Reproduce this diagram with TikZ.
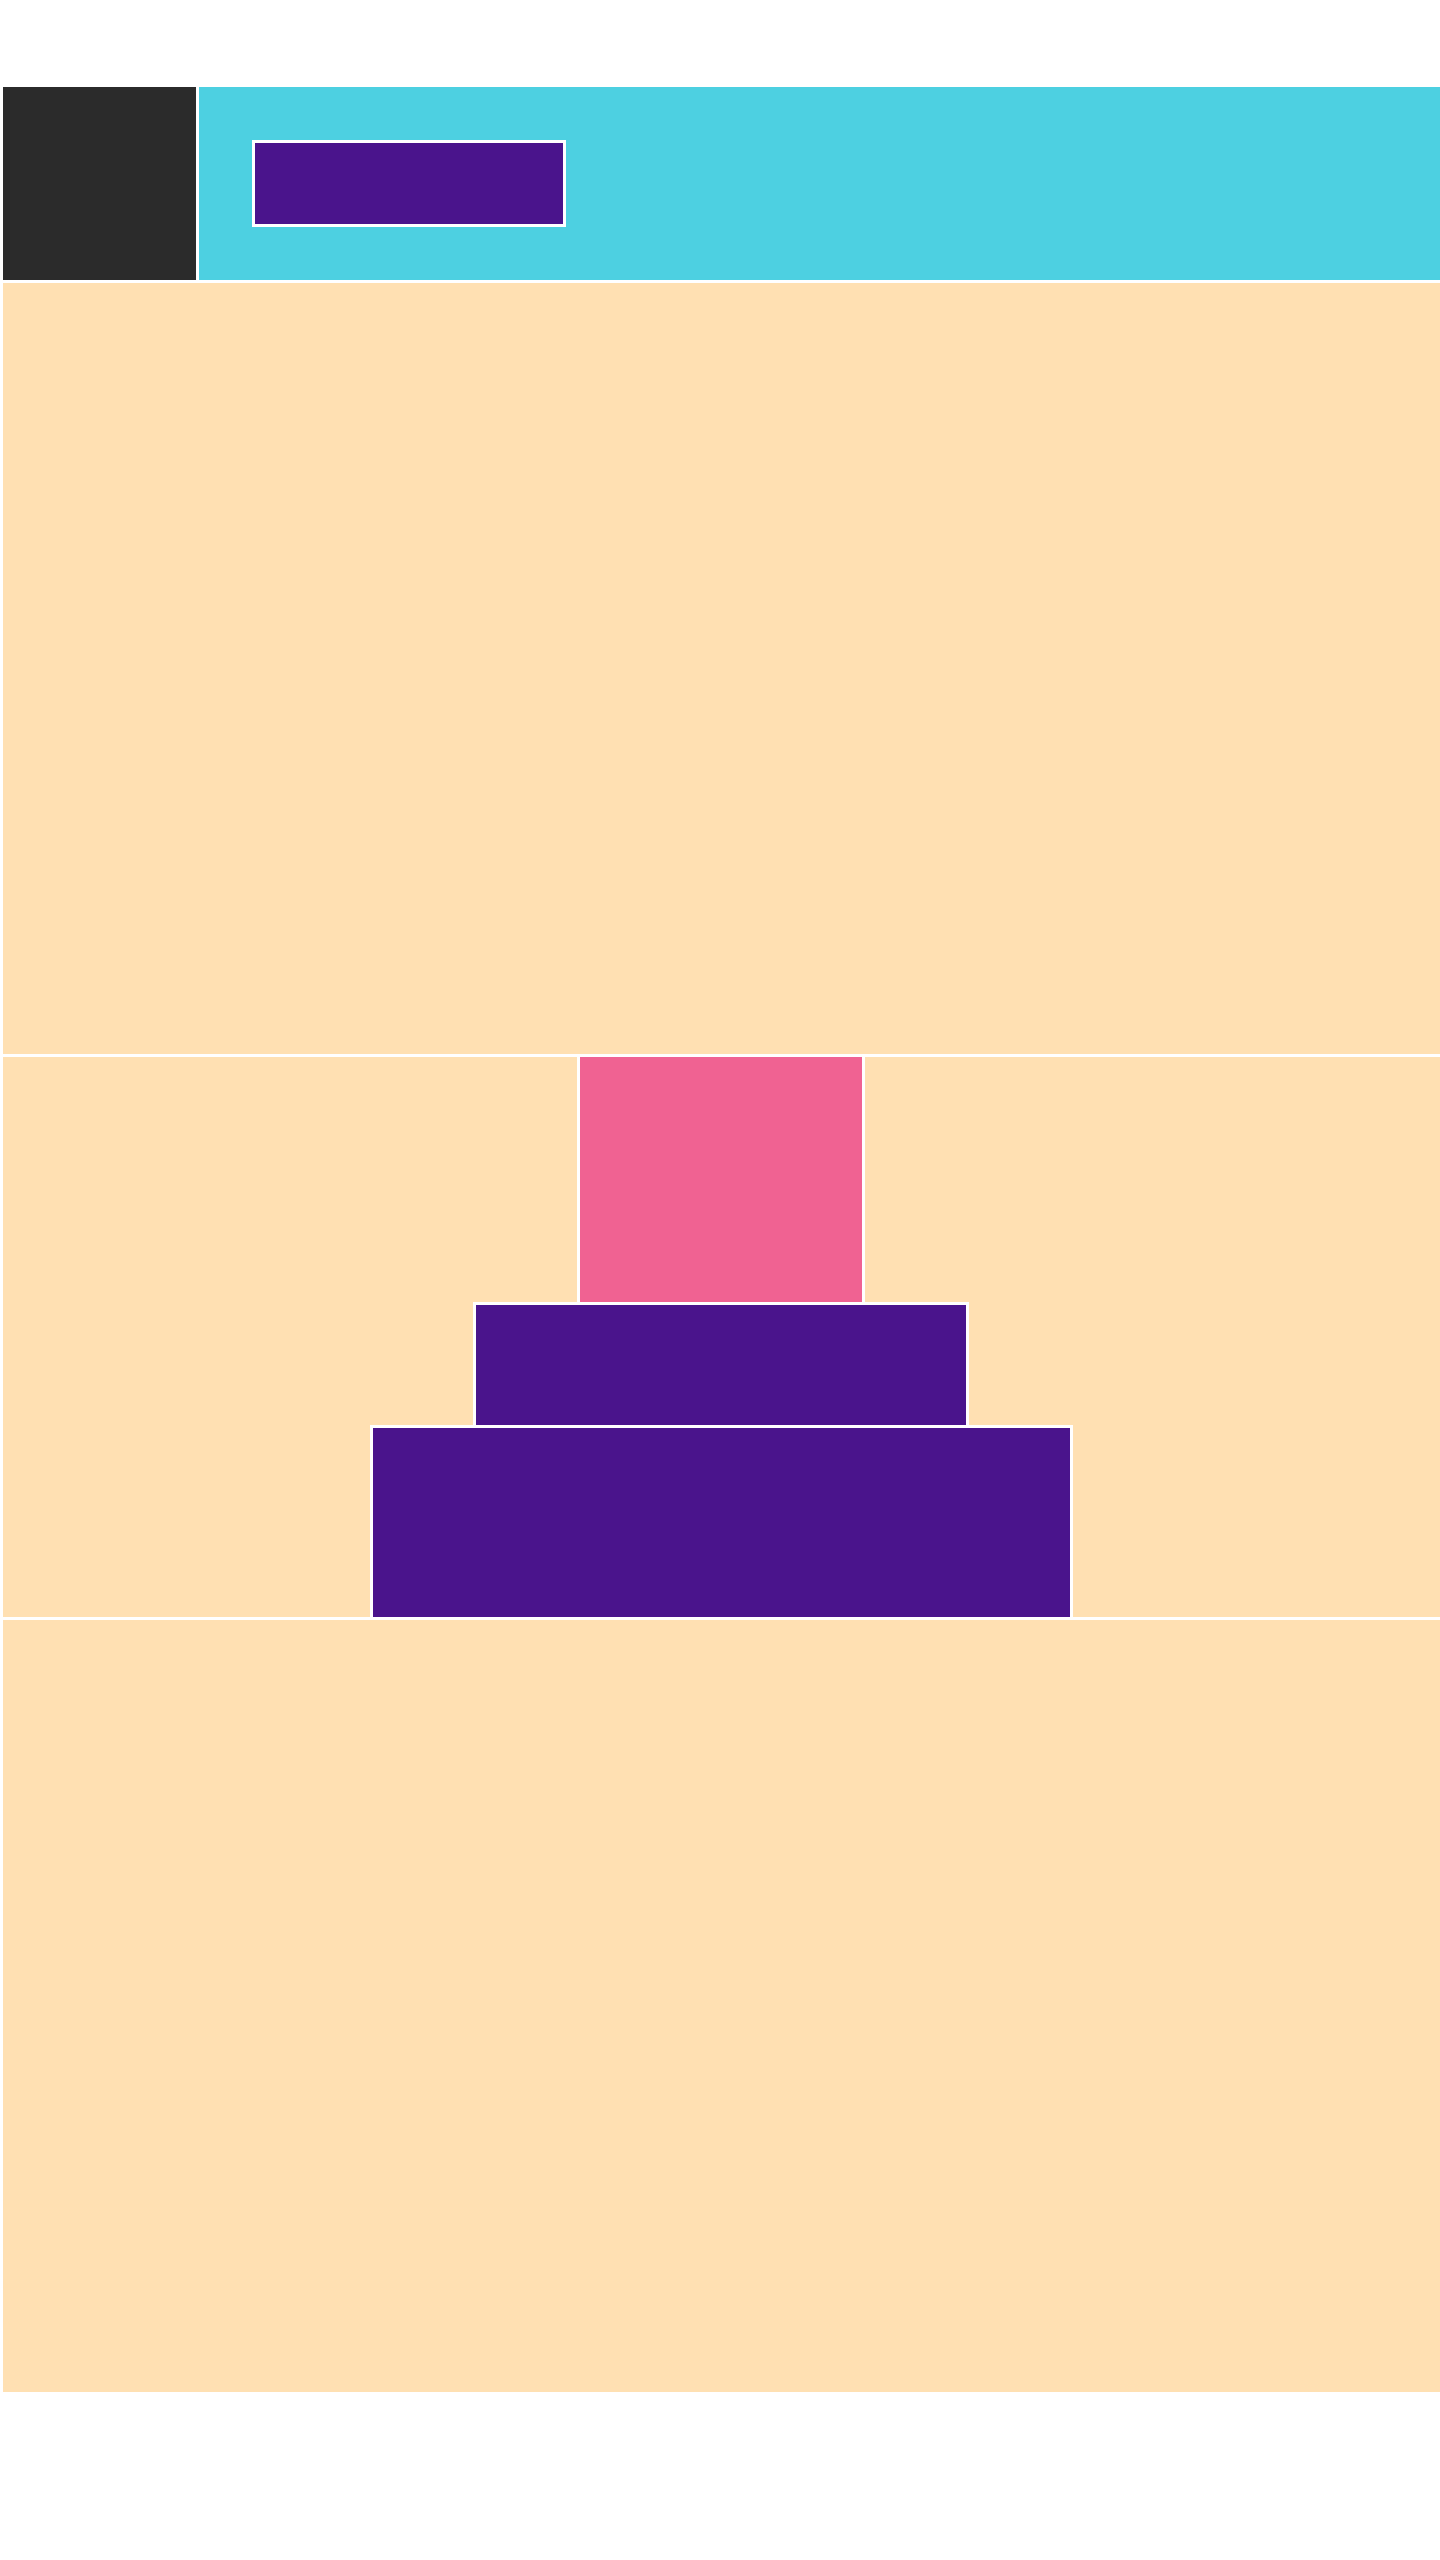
\documentclass[tikz,border=0pt]{standalone}
\definecolor{darkbar}{HTML}{2B2B2B}
\definecolor{cyanbar}{HTML}{4DD0E1}
\definecolor{deeppurple}{HTML}{4A148C}
\definecolor{pinkbox}{HTML}{F06292}
\definecolor{peach}{HTML}{FFE0B2}
\begin{document}
\begin{tikzpicture}[x=1pt,y=-1pt,
  blk/.style={rectangle, draw=white, line width=3pt, inner sep=0pt, outer sep=0pt, anchor=north west}]
\fill[white] (0,0) rectangle (1440,2560);
\useasboundingbox (0,0) rectangle (1440,2560);
\begin{scope}
\clip (0,0) rectangle (1440,2560);
% header
\node[blk, fill=darkbar, minimum width=196pt, minimum height=196pt] (logo) at (1.5,85.5) {};
\node[blk, fill=cyanbar, minimum width=1244pt, minimum height=196pt] (header) at (197.5,85.5) {};
\node[blk, fill=deeppurple, minimum width=311pt, minimum height=84pt] (button) at (253.5,141.5) {};
% section 1
\node[blk, fill=peach, minimum width=1440pt, minimum height=774pt] (sec1) at (1.5,281.5) {};
% section 2
\node[blk, fill=peach, minimum width=1440pt, minimum height=563pt] (sec2) at (1.5,1055.5) {};
\node[blk, fill=pinkbox, minimum width=285pt, minimum height=248pt] (pink) at (578.5,1055.5) {};
\node[blk, fill=deeppurple, minimum width=493pt, minimum height=123pt] (mid) at (474.5,1303.5) {};
\node[blk, fill=deeppurple, minimum width=700pt, minimum height=192pt] (base) at (371.5,1426.5) {};
% section 3
\node[blk, fill=peach, minimum width=1440pt, minimum height=775pt] (sec3) at (1.5,1618.5) {};
\end{scope}
\end{tikzpicture}
\end{document}
